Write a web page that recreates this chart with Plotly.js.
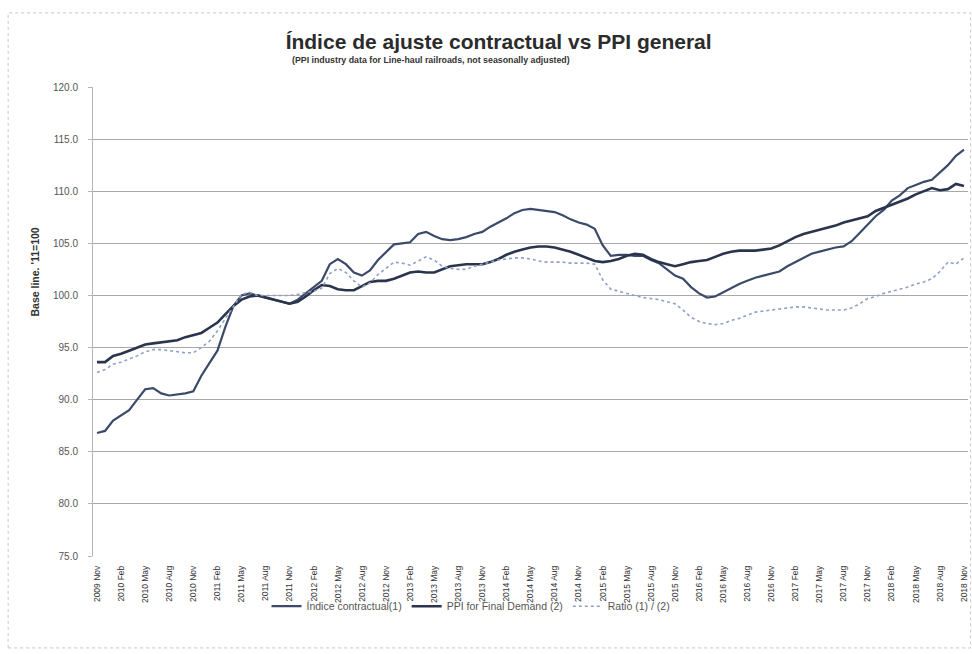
<!DOCTYPE html>
<html>
<head>
<meta charset="utf-8">
<script src="https://cdn.plot.ly/plotly-3.0.1.min.js"></script>
<style>
  html, body { margin: 0; padding: 0; background: #ffffff; }
  #chart { width: 972px; height: 654px; }
</style>
</head>
<body>
<div id="chart"></div>
<script>
// ---- Data (monthly 2009 Nov .. 2018 Nov) ----
const monthNames = ["Jan","Feb","Mar","Apr","May","Jun","Jul","Aug","Sep","Oct","Nov","Dec"];
const startYear = 2009;
const startMonthIndex = 10; // Nov

const indiceContractual = [
  86.8, 87.0, 88.0, 88.5, 89.0, 90.0, 91.0, 91.1, 90.6, 90.4,
  90.5, 90.6, 90.8, 92.3, 93.5, 94.7, 97.0, 99.0, 100.0, 100.2,
  100.0, 99.8, 99.6, 99.4, 99.2, 99.6, 100.2, 100.8, 101.4, 103.0,
  103.5, 103.0, 102.2, 101.9, 102.4, 103.4, 104.2, 104.9, 105.0, 105.1,
  105.9, 106.1, 105.7, 105.4, 105.3, 105.4, 105.6, 105.9, 106.1, 106.6,
  107.0, 107.4, 107.9, 108.2, 108.3, 108.2, 108.1, 108.0, 107.7, 107.3,
  107.0, 106.8, 106.4, 104.8, 103.8, 103.9, 103.9, 103.8, 103.8, 103.4,
  103.1, 102.5, 101.9, 101.6, 100.8, 100.2, 99.8, 99.9, 100.3, 100.7,
  101.1, 101.4, 101.7, 101.9, 102.1, 102.3, 102.8, 103.2, 103.6, 104.0,
  104.2, 104.4, 104.6, 104.7, 105.2, 106.0, 106.8, 107.6, 108.2, 109.1,
  109.6, 110.3, 110.6, 110.9, 111.1, 111.8, 112.5, 113.4, 114.0
];

const ppiFinalDemand = [
  93.6, 93.6, 94.2, 94.4, 94.7, 95.0, 95.3, 95.4, 95.5, 95.6,
  95.7, 96.0, 96.2, 96.4, 96.9, 97.4, 98.2, 99.0, 99.6, 99.9,
  100.0, 99.8, 99.6, 99.4, 99.2, 99.4, 99.9, 100.5, 101.0, 100.9,
  100.6, 100.5, 100.5, 100.9, 101.3, 101.4, 101.4, 101.6, 101.9, 102.2,
  102.3, 102.2, 102.2, 102.5, 102.8, 102.9, 103.0, 103.0, 103.0, 103.2,
  103.5, 103.9, 104.2, 104.4, 104.6, 104.7, 104.7, 104.6, 104.4, 104.2,
  103.9, 103.6, 103.3, 103.2, 103.3, 103.5, 103.8, 104.0, 103.9, 103.5,
  103.2, 103.0, 102.8, 103.0, 103.2, 103.3, 103.4, 103.7, 104.0, 104.2,
  104.3, 104.3, 104.3, 104.4, 104.5, 104.8, 105.2, 105.6, 105.9, 106.1,
  106.3, 106.5, 106.7, 107.0, 107.2, 107.4, 107.6, 108.1, 108.4, 108.7,
  109.0, 109.3, 109.7, 110.0, 110.3, 110.1, 110.2, 110.7, 110.5
];

const ratio = [
  92.6, 92.9, 93.4, 93.6, 93.9, 94.2, 94.6, 94.8, 94.8, 94.7,
  94.6, 94.5, 94.5, 95.0, 95.6, 96.6, 97.8, 99.0, 100.1, 100.3,
  100.0, 100.0, 100.0, 100.0, 100.0, 100.1, 100.3, 100.4, 100.7, 102.1,
  102.6, 102.2, 101.4, 100.8, 101.2, 102.0, 102.6, 103.2, 103.1, 102.9,
  103.3, 103.7, 103.4, 102.8, 102.6, 102.5, 102.5, 102.8, 103.0, 103.2,
  103.4, 103.5, 103.6, 103.6, 103.5, 103.3, 103.2, 103.2, 103.2, 103.1,
  103.1, 103.1, 103.0, 101.5, 100.6, 100.4, 100.2, 100.0, 99.8, 99.7,
  99.6, 99.4, 99.2, 98.6, 97.9, 97.5, 97.3, 97.2, 97.3, 97.6,
  97.8, 98.1, 98.4, 98.5, 98.6, 98.7, 98.8, 98.9, 98.9, 98.8,
  98.7, 98.6, 98.6, 98.6, 98.8, 99.2, 99.7, 99.9, 100.2, 100.4,
  100.6, 100.8, 101.1, 101.3, 101.6, 102.3, 103.2, 103.0, 103.6
];

const seriesNames = ["Índice contractual(1)", "PPI for Final Demand (2)", "Ratio (1) / (2)"];
const titleText = "Índice de ajuste contractual vs PPI general";
const subtitleText = "(PPI industry data for Line-haul railroads, not seasonally adjusted)";
const yTitleText = "Base line. '11=100";

// ---- Categories (monthly) ----
const months = indiceContractual.map((_, i) => {
  const mi = startMonthIndex + i;
  return (startYear + Math.floor(mi / 12)) + " " + monthNames[mi % 12];
});
const tickMonths = months.filter((_, i) => i % 3 === 0);

const FONT = '"Liberation Sans", Arial, sans-serif';

const traces = [
  { x: months, y: indiceContractual, name: seriesNames[0], type: "scatter", mode: "lines",
    line: { color: "#3b4a68", width: 2.2 } },
  { x: months, y: ppiFinalDemand, name: seriesNames[1], type: "scatter", mode: "lines",
    line: { color: "#2a344c", width: 2.6 } },
  { x: months, y: ratio, name: seriesNames[2], type: "scatter", mode: "lines",
    line: { color: "#8fa0c2", width: 1.6, dash: "dot" } }
];

const layout = {
  width: 972, height: 654,
  paper_bgcolor: "#ffffff", plot_bgcolor: "#ffffff",
  margin: { l: 93, r: 4, t: 87, b: 98 },
  font: { family: FONT, color: "#444" },
  title: { text: "<b>" + titleText + "</b>", x: 0.513, xanchor: "center", xref: "container",
           y: 0.936, yanchor: "middle", yref: "container",
           font: { family: FONT, size: 21, color: "#2b2b2b" } },
  xaxis: {
    type: "category", range: [-0.5, months.length - 0.5],
    tickmode: "array", tickvals: tickMonths, ticktext: tickMonths,
    tickangle: -90, tickfont: { family: FONT, size: 8.5, color: "#333" },
    ticklabelstandoff: 7,
    showgrid: false, showline: false, zeroline: false, ticks: ""
  },
  yaxis: {
    range: [75, 120], dtick: 5, tick0: 75, tickformat: ".1f",
    tickfont: { family: FONT, size: 10, color: "#555" },
    ticklabelstandoff: 8,
    showgrid: true, gridcolor: "#a8a8a8", gridwidth: 1,
    showline: true, linecolor: "#b5b5b5", linewidth: 1,
    ticks: "outside", ticklen: 4, tickcolor: "#b5b5b5",
    zeroline: false
  },
  showlegend: true,
  legend: { orientation: "h", x: 0.432, xanchor: "center", y: -0.107, yanchor: "middle",
            font: { family: FONT, size: 10.5, color: "#555" }, bgcolor: "rgba(0,0,0,0)" },
  annotations: [
    { text: "<b>" + subtitleText + "</b>", xref: "paper", yref: "paper",
      x: 0.225, xanchor: "left", y: 1.057, yanchor: "middle", showarrow: false,
      font: { family: FONT, size: 8.8, color: "#333" } },
    { text: "<b>" + yTitleText + "</b>", xref: "paper", yref: "paper",
      x: -0.066, xanchor: "center", y: 0.605, yanchor: "middle", showarrow: false,
      textangle: -90, font: { family: FONT, size: 10.5, color: "#333" } }
  ],
  shapes: [
    { type: "rect", xref: "paper", yref: "paper",
      x0: -0.097, x1: 1.003, y0: -0.196, y1: 1.158,
      line: { color: "#c8c8c8", width: 1, dash: "dot" } }
  ]
};

Plotly.newPlot("chart", traces, layout, { displayModeBar: false, staticPlot: true });
</script>
</body>
</html>
